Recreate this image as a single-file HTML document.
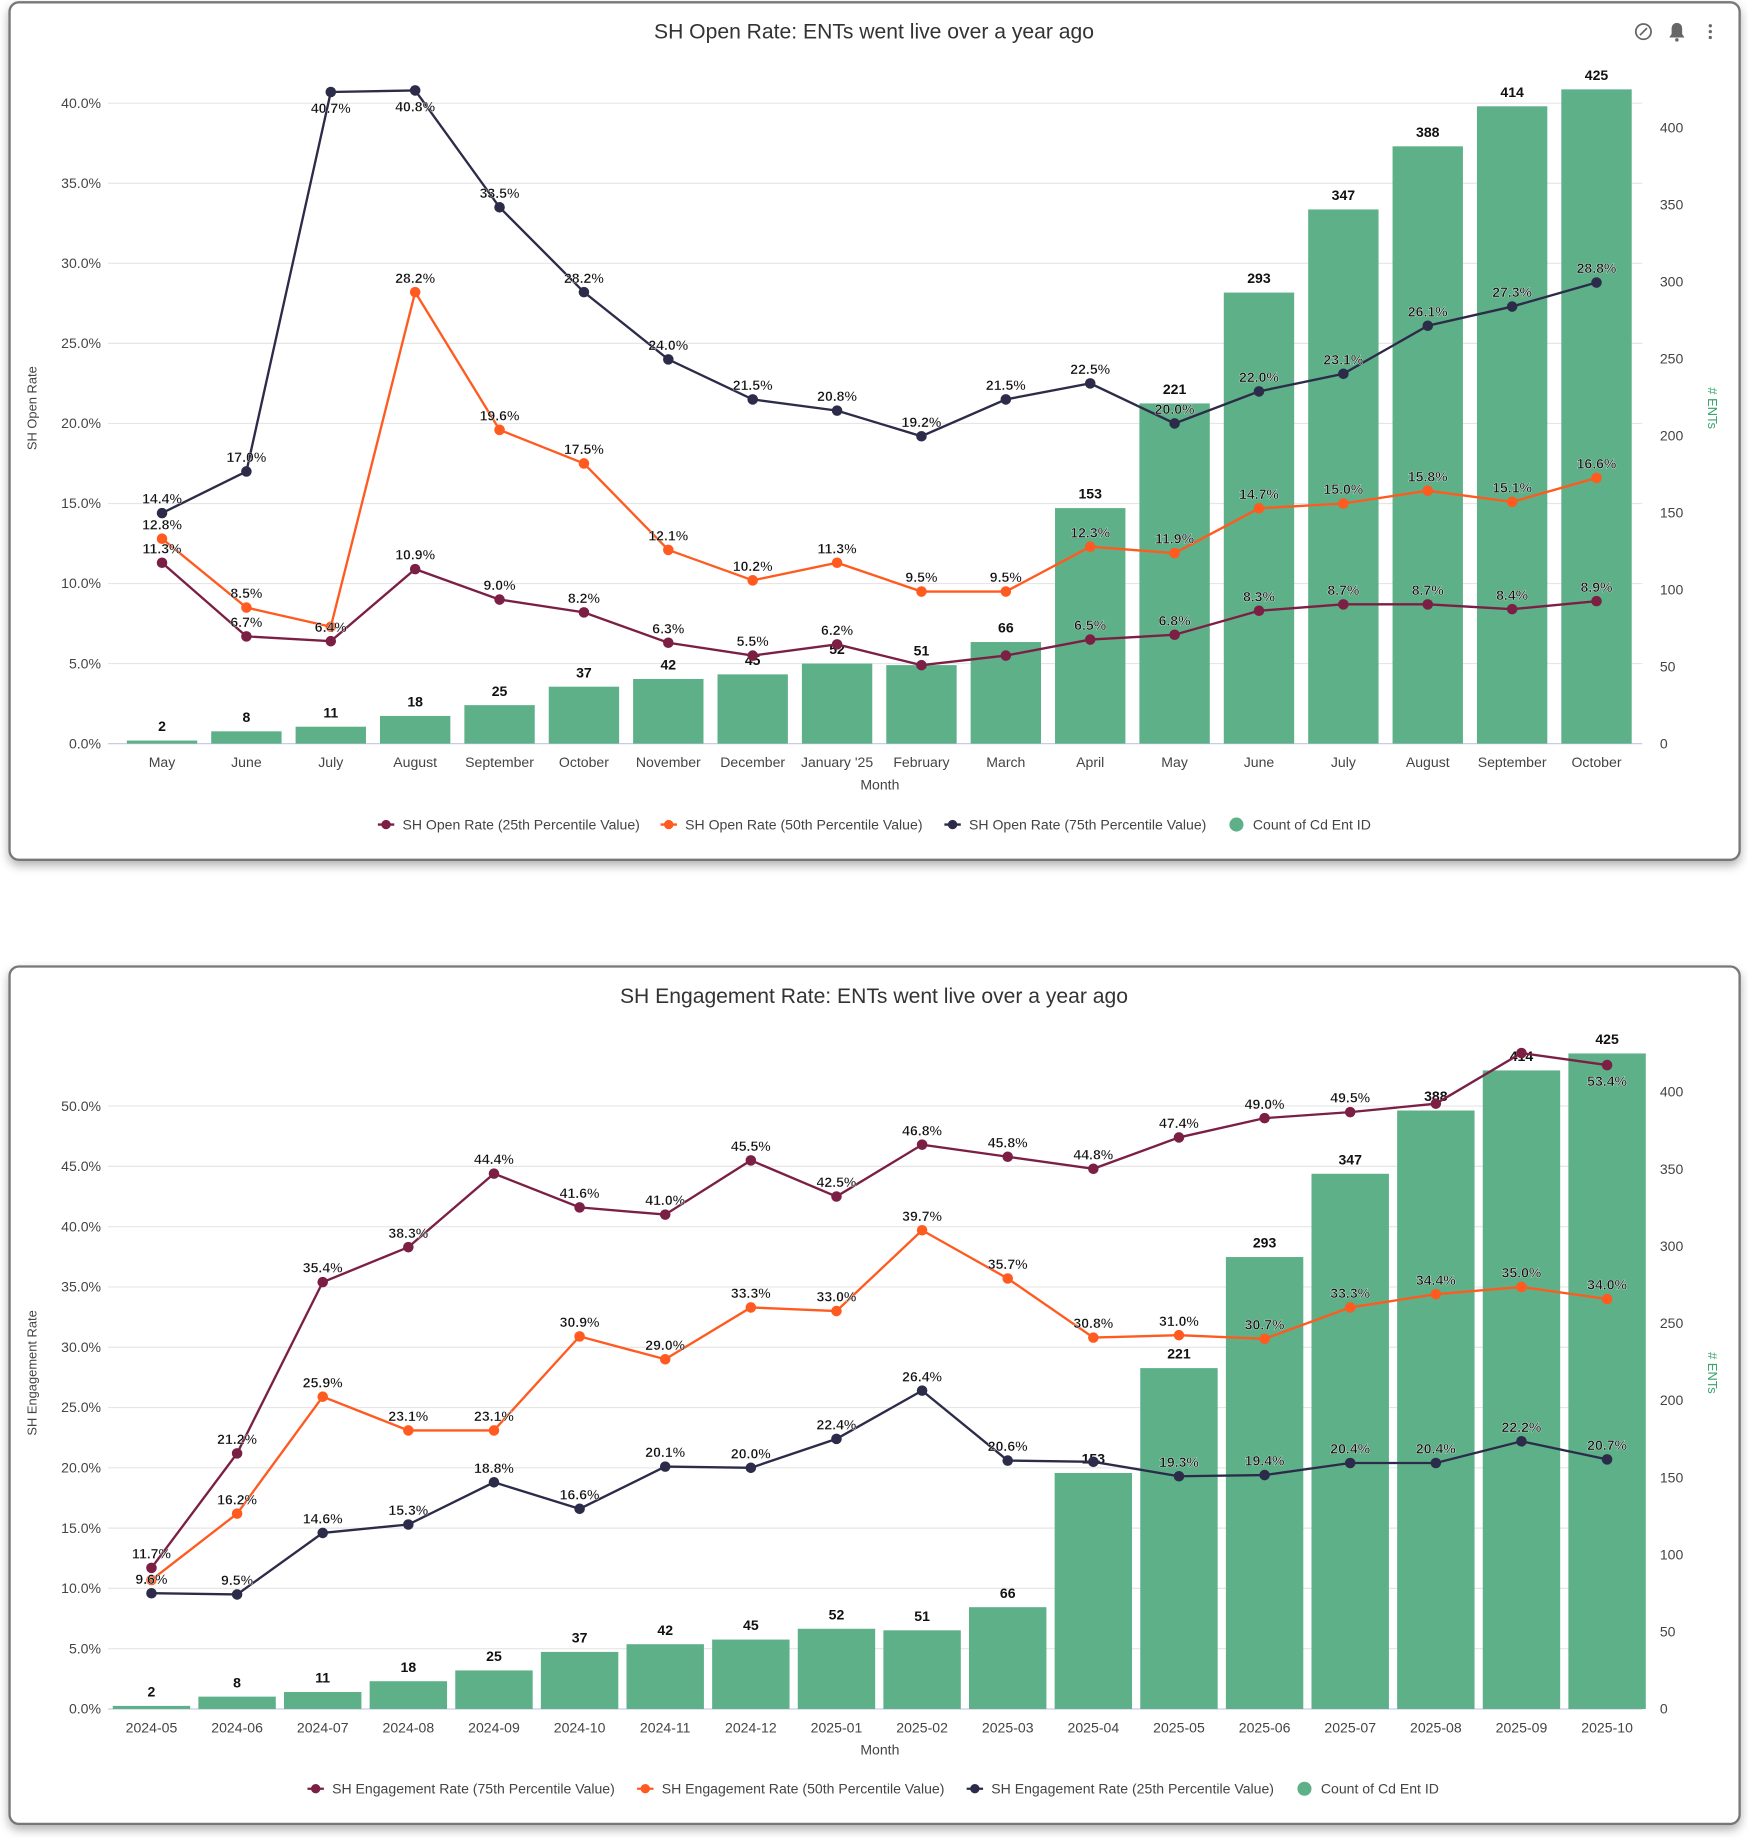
<!DOCTYPE html>
<html><head><meta charset="utf-8">
<style>
html,body{margin:0;padding:0;background:#fff;}
svg{display:block;font-family:"Liberation Sans",sans-serif;}
</style></head>
<body>
<svg id="root" width="1748" height="1838" viewBox="0 0 1490 1567" xmlns="http://www.w3.org/2000/svg">
<defs>
<filter id="sh" x="-5%" y="-5%" width="110%" height="115%"><feDropShadow dx="0" dy="4" stdDeviation="4" flood-color="#000" flood-opacity="0.3"/></filter>
</defs>
</svg>
<script>
// ---- Chart 1 data ----
const cats1 = ["May","June","July","August","September","October","November","December","January '25","February","March","April","May","June","July","August","September","October"];
const counts1 = [2,8,11,18,25,37,42,45,52,51,66,153,221,293,347,388,414,425];
const p25open = [11.3,6.7,6.4,10.9,9.0,8.2,6.3,5.5,6.2,4.9,5.5,6.5,6.8,8.3,8.7,8.7,8.4,8.9];
const p50open = [12.8,8.5,7.3,28.2,19.6,17.5,12.1,10.2,11.3,9.5,9.5,12.3,11.9,14.7,15.0,15.8,15.1,16.6];
const p75open = [14.4,17.0,40.7,40.8,33.5,28.2,24.0,21.5,20.8,19.2,21.5,22.5,20.0,22.0,23.1,26.1,27.3,28.8];
const labels25open = [1,1,1,1,1,1,1,1,1,0,0,1,1,1,1,1,1,1];
const labels50open = [1,1,0,1,1,1,1,1,1,1,1,1,1,1,1,1,1,1];
// ---- Chart 2 data ----
const cats2 = ["2024-05","2024-06","2024-07","2024-08","2024-09","2024-10","2024-11","2024-12","2025-01","2025-02","2025-03","2025-04","2025-05","2025-06","2025-07","2025-08","2025-09","2025-10"];
const counts2 = [2,8,11,18,25,37,42,45,52,51,66,153,221,293,347,388,414,425];
const p75eng = [11.7,21.2,35.4,38.3,44.4,41.6,41.0,45.5,42.5,46.8,45.8,44.8,47.4,49.0,49.5,50.2,54.4,53.4];
const p50eng = [10.7,16.2,25.9,23.1,23.1,30.9,29.0,33.3,33.0,39.7,35.7,30.8,31.0,30.7,33.3,34.4,35.0,34.0];
const p25eng = [9.6,9.5,14.6,15.3,18.8,16.6,20.1,20.0,22.4,26.4,20.6,20.5,19.3,19.4,20.4,20.4,22.2,20.7];
const labels75eng = [1,1,1,1,1,1,1,1,1,1,1,1,1,1,1,0,0,1];
const labels50eng = [0,1,1,1,1,1,1,1,1,1,1,1,1,1,1,1,1,1];
const labels25eng = [1,1,1,1,1,1,1,1,1,1,1,0,1,1,1,1,1,1];
const pctTicks1 = [0,5,10,15,20,25,30,35,40];
const pctTicks2 = [0,5,10,15,20,25,30,35,40,45,50];
const cntTicks1 = [0,50,100,150,200,250,300,350,400];
const cntTicks2 = [0,50,100,150,200,250,300,350,400];

const NS="http://www.w3.org/2000/svg";
const root=document.getElementById('root');
function mk(tag,attrs,parent,text){const e=document.createElementNS(NS,tag);for(const k in attrs)e.setAttribute(k,attrs[k]);if(text!==undefined)e.textContent=text;(parent||root).appendChild(e);return e;}

const C25="#7b1f45",C50="#ff5a1f",C75="#2c2c4a",CB="#5eb088";

function chart(cfg){
  const g=mk('g',{});
  
  
  const card=mk('rect',{x:cfg.cx,y:cfg.cy,width:1475,height:731,rx:8,fill:'#fff',stroke:'#777','stroke-width':2,filter:'url(#sh)'},g);
  
  
  const t=mk('text',{x:745,y:cfg.cy+31,'text-anchor':'middle','font-size':18,fill:'#333'},g,cfg.title);
  
  
  const y0=cfg.y0, pp=cfg.pxPct, pc=cfg.pxCnt;
  const xs=i=>cfg.x0+i*cfg.step;
  const yP=v=>y0-v*pp, yC=v=>y0-v*pc;
  cfg.pctTicks.forEach(v=>{
    const gl=mk('line',{x1:92,x2:1400,y1:yP(v),y2:yP(v),stroke:v===0?'#c8cde6':'#e6e6e6','stroke-width':1},g);
    
    
    const tl=mk('text',{x:86,y:yP(v)+4,'text-anchor':'end','font-size':12,fill:'#444'},g,v.toFixed(1)+'%');
    
    
  });
  cfg.cntTicks.forEach(v=>{
    const tl=mk('text',{x:1415,y:yC(v)+4,'font-size':12,fill:'#444'},g,String(v));
    
    
  });
  cfg.counts.forEach((v,i)=>{
    const b=mk('rect',{x:xs(i)-cfg.bw/2,y:yC(v),width:cfg.bw,height:v*pc,fill:CB},g);
    
    
    const bl=mk('text',{x:xs(i),y:yC(v)-8,'text-anchor':'middle','font-size':12,'font-weight':'bold',fill:'#111'},g,String(v));
    
    
  });
  cfg.cats.forEach((c,i)=>{
    const xl=mk('text',{x:xs(i),y:y0+20,'text-anchor':'middle','font-size':12,fill:'#444'},g,c);
    
    
  });
  const xt=mk('text',{x:750,y:y0+39,'text-anchor':'middle','font-size':12,fill:'#444'},g,'Month');
  
  
  const yt=mk('text',{x:31,y:(y0+cfg.cy+60)/2,'text-anchor':'middle','font-size':11,fill:'#444',transform:`rotate(-90 31 ${(y0+cfg.cy+60)/2})`},g,cfg.yTitle);
  
  
  const yt2=mk('text',{x:1456,y:(y0+cfg.cy+60)/2,'text-anchor':'middle','font-size':11,fill:'#3aa56e',transform:`rotate(90 1456 ${(y0+cfg.cy+60)/2})`},g,'# ENTs');
  
  
  cfg.series.forEach(s=>{
    const pts=s.vals.map((v,i)=>xs(i)+','+yP(v)).join(' ');
    const pl=mk('polyline',{points:pts,fill:'none',stroke:s.color,'stroke-width':2},g);
    
    
    s.vals.forEach((v,i)=>{
      const c=mk('circle',{cx:xs(i),cy:yP(v),r:4.5,fill:s.color},g);
      
      
    });
  });
  cfg.series.forEach(s=>{
    s.vals.forEach((v,i)=>{
      if(s.show && !s.show[i]) return;
      const lb=mk('text',{x:xs(i),y:yP(v)+(s.below&&s.below(i)?18:-8),'text-anchor':'middle','font-size':12,'font-weight':'bold',fill:'#111',stroke:'#fff','stroke-width':0.3},g,v.toFixed(1)+'%');
      
      
    });
  });
  let lx=cfg.legX;
  const ly=cfg.cy+cfg.legDy;
  cfg.legend.forEach(l=>{
    const lg=mk('g',{},g);
    
    
    if(l.bar){mk('circle',{cx:lx+7,cy:ly,r:6,fill:CB},lg);}
    else{mk('line',{x1:lx,x2:lx+14,y1:ly,y2:ly,stroke:l.color,'stroke-width':2},lg);mk('circle',{cx:lx+7,cy:ly,r:4,fill:l.color},lg);}
    mk('text',{x:lx+21,y:ly+4,'font-size':12,fill:'#444'},lg,l.label);
    lx+=l.w;
  });
}

chart({name:'open-rate-chart',cx:8,cy:2,title:'SH Open Rate: ENTs went live over a year ago',y0:634,pxPct:13.65,pxCnt:1.3125,x0:138,step:71.94,bw:60,
  cats:cats1,counts:counts1,pctTicks:pctTicks1,cntTicks:cntTicks1,yTitle:'SH Open Rate',
  series:[{name:'p25-line',vals:p25open,color:C25,show:labels25open},{name:'p50-line',vals:p50open,color:C50,show:labels50open},{name:'p75-line',vals:p75open,color:C75,below:i=>i===2||i===3}],
  legX:322,legDy:701,legend:[{label:'SH Open Rate (25th Percentile Value)',color:C25,w:241},{label:'SH Open Rate (50th Percentile Value)',color:C50,w:242},{label:'SH Open Rate (75th Percentile Value)',color:C75,w:242},{label:'Count of Cd Ent ID',bar:1,w:200}]});

chart({name:'engagement-rate-chart',cx:8,cy:824,title:'SH Engagement Rate: ENTs went live over a year ago',y0:1457,pxPct:10.28,pxCnt:1.315,x0:129,step:73,bw:66,
  cats:cats2,counts:counts2,pctTicks:pctTicks2,cntTicks:cntTicks2,yTitle:'SH Engagement Rate',
  series:[{name:'p75-line',vals:p75eng,color:C25,show:labels75eng,below:i=>i===17},{name:'p50-line',vals:p50eng,color:C50,show:labels50eng},{name:'p25-line',vals:p25eng,color:C75,show:labels25eng}],
  legX:262,legDy:701,legend:[{label:'SH Engagement Rate (75th Percentile Value)',color:C25,w:281},{label:'SH Engagement Rate (50th Percentile Value)',color:C50,w:281},{label:'SH Engagement Rate (25th Percentile Value)',color:C75,w:281},{label:'Count of Cd Ent ID',bar:1,w:200}]});

const ic=mk('g',{});


mk('circle',{cx:1401,cy:27,r:6.5,fill:'none',stroke:'#666','stroke-width':1.5},ic);
mk('line',{x1:1398,y1:30,x2:1404,y2:24,stroke:'#666','stroke-width':1.5},ic);
mk('path',{d:'M1423 32 L1436 32 L1434 29 L1434 24 A4.5 4.5 0 0 0 1425 24 L1425 29 Z',fill:'#666'},ic);
mk('circle',{cx:1429.5,cy:34,r:1.5,fill:'#666'},ic);
[22,27,32].forEach(y=>mk('circle',{cx:1458,cy:y,r:1.4,fill:'#666'},ic));
</script>
</body></html>
